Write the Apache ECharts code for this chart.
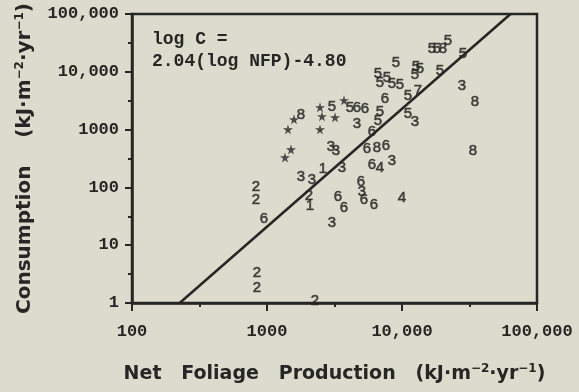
<!DOCTYPE html>
<html>
<head>
<meta charset="utf-8">
<script src="https://cdn.jsdelivr.net/npm/echarts@6/dist/echarts.min.js"></script>
<style>
  html, body { margin: 0; padding: 0; background: #dbdccd; }
  #chart { width: 579px; height: 392px; }
</style>
</head>
<body>
<div id="chart"></div>
<script>
// Tick labels for both logarithmic axes
const xTickLabels = { 100: '100', 1000: '1000', 10000: '10,000', 100000: '100,000' };
const yTickLabels = { 1: '1', 10: '10', 100: '100', 1000: '1000', 10000: '10,000', 100000: '100,000' };

// Sites plotted with their numeric type code (NFP and consumption in kJ·m-2·yr-1)
const siteCode = [
  '2', '2', '6', '2', '2', '2', '3', '3', '1', '2',
  '1', '6', '6', '3', '6', '3', '6', '6', '4', '3',
  '6', '8', '6', '6', '4', '3', '3', '3', '3', '6',
  '5', '5', '5', '6', '6', '6', '5', '5', '5', '5',
  '5', '5', '5', '5', '5', '8', '5', '5', '5', '5',
  '5', '5', '5', '7', '5', '3', '3', '8', '8', '8'
];
const siteNfp = [
  829, 829, 950, 843, 843, 2268, 1786, 2154, 2599, 2047,
  2082, 3357, 3719, 3030, 4970, 5054, 5230, 6203, 10000, 3594,
  5505, 6529, 7612, 5995, 6873, 8433, 2979, 3245, 4642, 5995,
  6640, 3030, 4120, 4642, 5320, 7483, 6873, 9028, 6640, 7743,
  6873, 9669, 8433, 16680, 18170, 20120, 21910, 28310, 12700, 13600,
  19120, 12485, 11080, 13140, 11080, 12485, 27830, 34730, 33570, 1786
];
const siteConsumption = [
  103, 61, 28, 3.3, 1.8, 1.08, 154, 137, 212, 72,
  48, 69, 45, 24.5, 126, 85, 61, 50, 67, 221,
  472, 491, 532, 249, 221, 292, 511, 435, 1281, 931,
  1444, 2430, 2334, 2334, 2243, 3344, 1989, 14100, 9085, 7743,
  6340, 5853, 6094, 24660, 24660, 24660, 33970, 20210, 12020, 11100,
  10240, 8730, 3770, 4605, 1836, 1387, 5623, 2966, 435, 1764
];

// Sites plotted with a star
const starNfp = [1585, 1430, 1506, 1359, 2470, 2555, 2470, 3719, 3190];
const starConsumption = [1503, 1008, 453, 329, 2430, 1695, 1008, 3213, 1628];

// Fitted relation: log C = 2.04 (log NFP) - 4.80
const fitSlope = 2.04;
const fitIntercept = -4.80;
const fitConsumption = [1, 100000];
const fitNfp = fitConsumption.map(c => Math.pow(10, (Math.log10(c) - fitIntercept) / fitSlope));

const ink = '#262624';
const tickFont = { fontFamily: 'Liberation Mono', fontSize: 17, color: ink, fontWeight: 'bold' };
const titleRich = {
  t: { fontFamily: 'DejaVu Sans', fontSize: 19, color: ink, fontWeight: 'bold' },
  s: { fontFamily: 'DejaVu Sans', fontSize: 12, color: ink, fontWeight: 'bold', padding: [0, 0, 10, 0] }
};
const starPath = 'path://M50,0 L61,35 L98,35 L68,57 L79,91 L50,70 L21,91 L32,57 L2,35 L39,35 Z';

// Half-decade tick marks, drawn by helper axes running over the decade exponents
const halfDecadeAxis = (min, max) => ({
  type: 'value', min: min, max: max, interval: 0.5,
  axisLine: { show: false },
  axisTick: { show: true, inside: false, length: 4, lineStyle: { color: ink, width: 2 } },
  axisLabel: { show: false },
  splitLine: { show: false }
});

const chart = echarts.init(document.getElementById('chart'), null, { renderer: 'canvas' });
chart.setOption({
  backgroundColor: '#dbdccd',
  animation: false,
  grid: {
    left: 132, right: 42, top: 14, bottom: 89,
    show: true, borderColor: ink, borderWidth: 2.5, backgroundColor: 'transparent'
  },
  xAxis: [
    {
      type: 'log', logBase: 10, min: 100, max: 100000,
      axisLine: { lineStyle: { color: ink, width: 2.5 } },
      axisTick: { inside: false, length: 8, lineStyle: { color: ink, width: 2 } },
      splitLine: { show: false },
      axisLabel: Object.assign({ margin: 20, formatter: v => xTickLabels[Math.round(v)] || '' }, tickFont),
      name: '{t|Net   Foliage   Production   (kJ·m}{s|−2}{t|·yr}{s|−1}{t|)}',
      nameLocation: 'middle', nameGap: 60,
      nameTextStyle: { rich: titleRich }
    },
    Object.assign({ position: 'bottom' }, halfDecadeAxis(2, 5))
  ],
  yAxis: [
    {
      type: 'log', logBase: 10, min: 1, max: 100000,
      axisLine: { lineStyle: { color: ink, width: 2.5 } },
      axisTick: { inside: false, length: 7, lineStyle: { color: ink, width: 2 } },
      splitLine: { show: false },
      axisLabel: Object.assign({ margin: 13, formatter: v => yTickLabels[Math.round(v)] || '' }, tickFont),
      name: '{t|Consumption    (kJ·m}{s|−2}{t|·yr}{s|−1}{t|)}',
      nameLocation: 'middle', nameGap: 96, nameRotate: 90,
      nameTextStyle: { rich: Object.assign({}, titleRich, { t: Object.assign({}, titleRich.t, { fontSize: 20 }) }) }
    },
    Object.assign({ position: 'left' }, halfDecadeAxis(0, 5))
  ],
  graphic: [
    {
      type: 'text', left: 152, top: 28,
      style: {
        text: 'log C =\n2.04(log NFP)-4.80',
        fontFamily: 'Liberation Mono', fontSize: 18, fontWeight: 'bold',
        lineHeight: 22, fill: ink
      }
    }
  ],
  series: [
    {
      type: 'line',
      data: fitNfp.map((x, i) => [x, fitConsumption[i]]),
      symbol: 'none',
      lineStyle: { color: ink, width: 2.5 },
      silent: true
    },
    {
      type: 'scatter',
      data: siteNfp.map((x, i) => [x, siteConsumption[i], siteCode[i]]),
      symbol: 'circle', symbolSize: 1,
      itemStyle: { color: 'transparent' },
      label: {
        show: true, position: 'inside',
        formatter: p => p.value[2],
        fontFamily: 'Liberation Sans', fontSize: 15, color: ink,
        textBorderColor: ink, textBorderWidth: 0.6
      }
    },
    {
      type: 'scatter',
      data: starNfp.map((x, i) => [x, starConsumption[i]]),
      symbol: starPath, symbolSize: 10,
      itemStyle: { color: ink }
    }
  ]
});
</script>
</body>
</html>
